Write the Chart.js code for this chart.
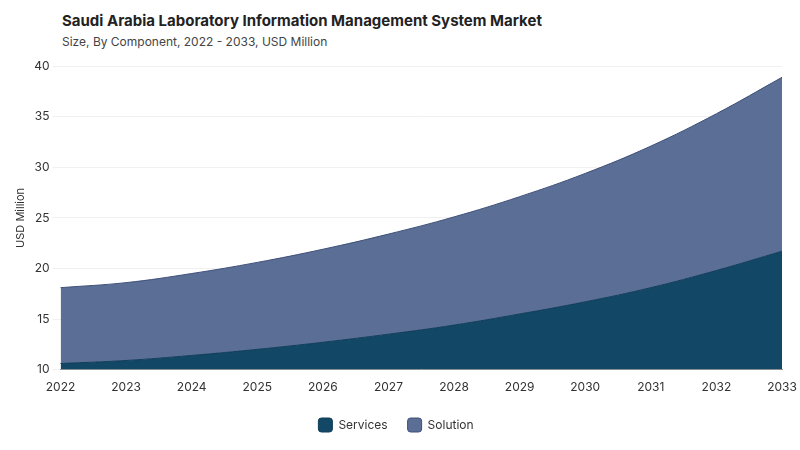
<!DOCTYPE html>
<html><head><meta charset="utf-8">
<script src="https://cdn.jsdelivr.net/npm/chart.js"></script>
<style>body{margin:0;background:#fff;font-family:Inter,sans-serif}
#t{position:absolute;left:62px;top:11px;font-weight:700;font-size:15px;color:#222}
#s{position:absolute;left:62px;top:34px;font-size:12px;color:#444}
#w{position:absolute;left:0;top:56px;width:800px;height:394px}</style></head>
<body><div id="t">Saudi Arabia Laboratory Information Management System Market</div>
<div id="s">Size, By Component, 2022 - 2033, USD Million</div>
<div id="w"><canvas id="c"></canvas></div>
<script>
const years=["2022","2023","2024","2025","2026","2027","2028","2029","2030","2031","2032","2033"];
const services=[10.6,10.9,11.4,12.0,12.7,13.5,14.4,15.5,16.7,18.1,19.8,21.7];
const solution=[7.5,7.7,8.1,8.6,9.2,9.9,10.7,11.6,12.7,14.0,15.5,17.2];
Chart.defaults.font.family="Inter, sans-serif";
new Chart(document.getElementById('c'),{type:'line',
data:{labels:years,datasets:[
{label:'Services',data:services,fill:'origin',backgroundColor:'#134766',borderColor:'#103d58',borderWidth:1,pointRadius:0,tension:0.4},
{label:'Solution',data:solution,fill:'-1',backgroundColor:'#5a6e96',borderColor:'#3f5078',borderWidth:1,pointRadius:0,tension:0.4}]},
options:{responsive:true,maintainAspectRatio:false,animation:false,
layout:{padding:{left:10,right:18,top:6,bottom:8}},
plugins:{legend:{position:'bottom',labels:{boxWidth:14,boxHeight:14,padding:20,color:'#333',font:{size:12},useBorderRadius:true,borderRadius:3}},tooltip:{enabled:false}},
scales:{x:{offset:false,grid:{display:false},border:{color:'#999'},ticks:{color:'#333',font:{size:12}}},
y:{stacked:true,min:10,max:40,ticks:{stepSize:5,color:'#333',font:{size:12}},grid:{color:'#f0f0f0'},border:{display:false},
title:{display:true,text:'USD Million',color:'#333',font:{size:11}}}}}});
</script></body></html>
